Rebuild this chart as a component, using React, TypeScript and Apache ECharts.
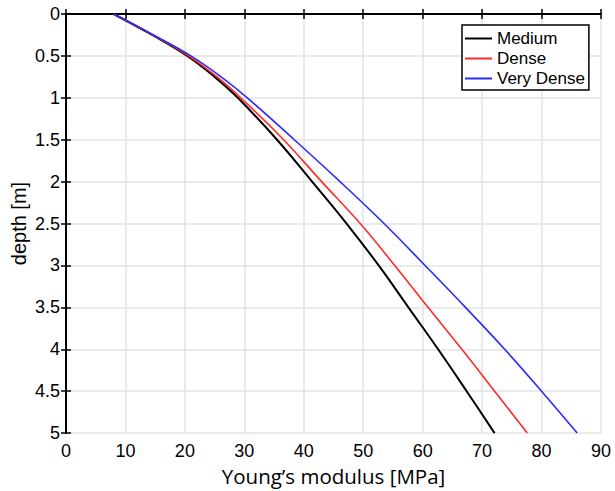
import React, { useEffect, useRef } from "react";
import * as echarts from "echarts";

const depths = [0, 0.25, 0.5, 0.75, 1, 1.5, 2, 2.5, 3, 3.5, 4, 4.5, 5];
const mediumE = [8.0, 14.5, 20.4, 25.0, 28.9, 35.5, 41.4, 47.2, 52.6, 57.6, 62.6, 67.4, 72.1];
const denseE = [8.0, 14.6, 20.6, 25.4, 29.4, 36.6, 43.0, 49.5, 55.3, 60.9, 66.6, 72.1, 77.6];
const veryDenseE = [8.0, 14.7, 21.0, 26.1, 30.5, 38.4, 46.1, 53.5, 60.4, 67.2, 73.8, 80.0, 86.0];
const seriesNames = ["Medium", "Dense", "Very Dense"];
const seriesColors = ["#000000", "#ff2a2a", "#2a2aff"];

const FONT = "Liberation Sans";

export default function App() {
  const ref = useRef<HTMLDivElement>(null);
  useEffect(() => {
    if (!ref.current) return;
    const chart = echarts.init(ref.current, undefined, { renderer: "svg" });
    const all = [mediumE, denseE, veryDenseE];
    const tickCommon = { show: true, inside: true, length: 5, lineStyle: { color: "#000", width: 1.5 } };
    chart.setOption({
      animation: false,
      backgroundColor: "#fff",
      grid: { left: 66, right: 14, top: 14, bottom: 55, show: false },
      legend: {
        orient: "vertical",
        left: 462,
        top: 25,
        data: seriesNames,
        icon: "rect",
        itemWidth: 27,
        itemHeight: 2,
        itemGap: 3,
        padding: [5, 4, 3, 3],
        borderColor: "#000",
        borderWidth: 1.5,
        backgroundColor: "#fff",
        textStyle: { fontFamily: FONT, fontSize: 17, color: "#000" },
      },
      xAxis: [
        {
          type: "value",
          min: 0,
          max: 90,
          interval: 10,
          position: "bottom",
          name: "Young\u2019s modulus [MPa]",
          nameLocation: "middle",
          nameGap: 30,
          nameTextStyle: { fontFamily: "Open Sans", fontSize: 20.5, color: "#000" },
          axisLine: { show: true, lineStyle: { color: "#000", width: 2 } },
          axisTick: tickCommon,
          axisLabel: { fontFamily: FONT, fontSize: 18, color: "#000", margin: 9 },
          splitLine: { show: true, lineStyle: { color: "#e3e3e3", width: 1.5 } },
        },
        {
          type: "value",
          min: 0,
          max: 90,
          interval: 10,
          position: "top",
          axisLine: { show: true, lineStyle: { color: "#000", width: 2 } },
          axisTick: tickCommon,
          axisLabel: { show: false },
          splitLine: { show: false },
        },
      ],
      yAxis: [
        {
          type: "value",
          min: 0,
          max: 5,
          interval: 0.5,
          inverse: true,
          position: "left",
          name: "depth [m]",
          nameLocation: "middle",
          nameGap: 37,
          nameMoveOverlap: false,
          nameTextStyle: { fontFamily: FONT, fontSize: 20, color: "#000" },
          axisLine: { show: true, lineStyle: { color: "#000", width: 2 } },
          axisTick: tickCommon,
          axisLabel: { fontFamily: FONT, fontSize: 18, color: "#000", margin: 6 },
          splitLine: { show: true, lineStyle: { color: "#e3e3e3", width: 1.5 } },
        },
        {
          type: "value",
          min: 0,
          max: 5,
          interval: 0.5,
          inverse: true,
          position: "right",
          axisLine: { show: true, lineStyle: { color: "#000", width: 2 } },
          axisTick: tickCommon,
          axisLabel: { show: false },
          splitLine: { show: false },
        },
      ],
      series: seriesNames.map((name, i) => ({
        name,
        type: "line",
        xAxisIndex: 0,
        yAxisIndex: 0,
        smooth: 0.4,
        symbol: "none",
        lineStyle: { color: seriesColors[i], width: i === 0 ? 2 : 1.6 },
        itemStyle: { color: seriesColors[i] },
        data: depths.map((d, j) => [all[i][j], d]),
      })),
    });
    return () => chart.dispose();
  }, []);
  return (
    <div
      ref={ref}
      style={{ position: "fixed", left: 0, top: 0, width: 615, height: 491 }}
    />
  );
}
